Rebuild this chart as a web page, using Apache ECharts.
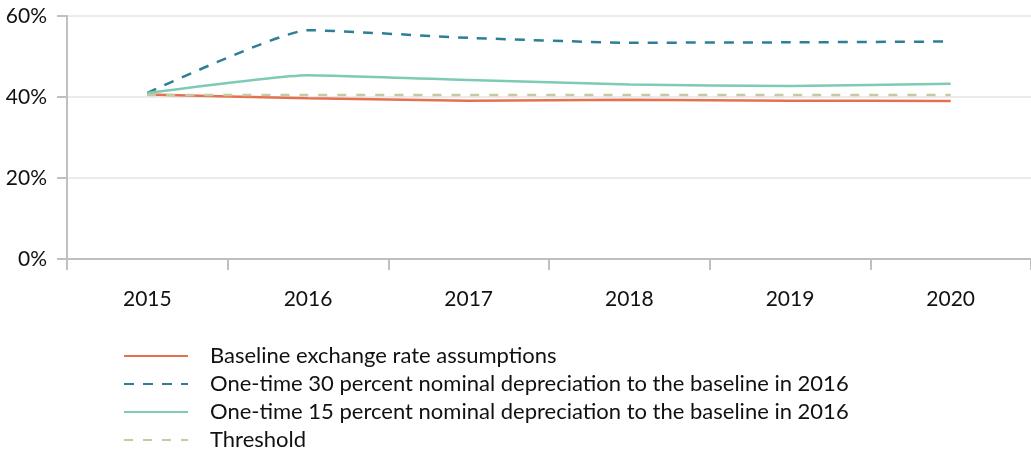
<!DOCTYPE html>
<html>
<head>
<meta charset="utf-8">
<script src="https://cdn.jsdelivr.net/npm/echarts@6/dist/echarts.min.js"></script>
<style>
  html, body { margin: 0; padding: 0; background: #fff; }
  #chart { width: 1031px; height: 454px; }
</style>
</head>
<body>
<div id="chart"></div>
<script>
  const years = ["2015", "2016", "2017", "2018", "2019", "2020"];
  const baseline = [40.6, 39.7, 39.1, 39.3, 39.1, 39.0];
  const dep30 = [41.0, 56.5, 54.6, 53.4, 53.5, 53.7];
  const dep15 = [41.0, 45.4, 44.2, 43.1, 42.7, 43.3];
  const threshold = [40.5, 40.5, 40.5, 40.5, 40.5, 40.5];
  const yTicks = [0, 20, 40, 60];

  const names = [
    "Baseline exchange rate assumptions",
    "One-time 30 percent nominal depreciation to the baseline in 2016",
    "One-time 15 percent nominal depreciation to the baseline in 2016",
    "Threshold",
  ];

  const font = "Lato, 'Open Sans', sans-serif";
  const chart = echarts.init(document.getElementById("chart"));

  const mkSeries = (name, data, color, type, width) => ({
    name,
    type: "line",
    data,
    symbol: "none",
    smooth: 0.15,
    lineStyle: { color, width, type, cap: "butt" },
    itemStyle: { color },
  });

  chart.setOption({
    animation: false,
    textStyle: { fontFamily: font },
    grid: { left: 67, right: 0, top: 16, height: 243 },
    legend: {
      orient: "vertical",
      left: 123,
      top: 343,
      padding: 0,
      itemWidth: 64,
      itemHeight: 26,
      itemGap: 2,
      itemStyle: { opacity: 0 },
      textStyle: { fontSize: 22, lineHeight: 26, color: "#111", fontFamily: font, padding: [0, 0, 0, 17] },
      data: names,
    },
    xAxis: {
      type: "category",
      data: years,
      boundaryGap: true,
      axisLine: { lineStyle: { color: "#c0c0c0", width: 2 } },
      axisTick: { show: true, length: 11, lineStyle: { color: "#c0c0c0", width: 2 } },
      axisLabel: { margin: 30, fontSize: 21, color: "#111", fontFamily: font },
      splitLine: { show: false },
    },
    yAxis: {
      type: "value",
      min: 0,
      max: 60,
      interval: 20,
      axisLine: { show: true, lineStyle: { color: "#c0c0c0", width: 2 } },
      axisTick: { show: true, length: 10, lineStyle: { color: "#c0c0c0", width: 2 } },
      axisLabel: {
        margin: 20,
        fontSize: 21,
        color: "#111",
        fontFamily: font,
        formatter: v => (yTicks.includes(v) ? v + "%" : ""),
      },
      splitLine: { show: true, lineStyle: { color: "#ebebeb", width: 2 } },
    },
    series: [
      mkSeries(names[0], baseline, "#e5704f", "solid", 2.5),
      mkSeries(names[1], dep30, "#2e7f96", [10, 9], 2.5),
      mkSeries(names[2], dep15, "#7dcbb5", "solid", 2.5),
      mkSeries(names[3], threshold, "#c9c8a4", [9, 10], 2.5),
    ],
  });
</script>
</body>
</html>
